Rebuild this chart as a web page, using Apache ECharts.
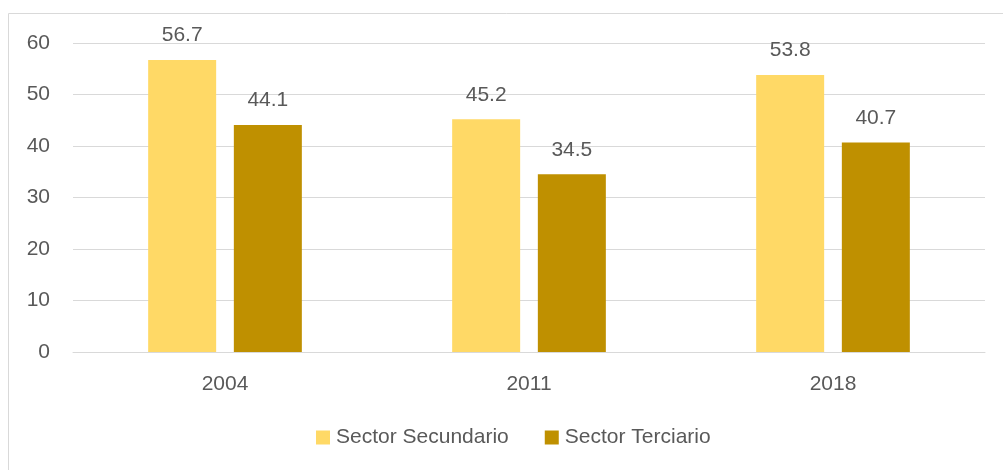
<!DOCTYPE html>
<html>
<head>
<meta charset="utf-8">
<script src="https://cdn.jsdelivr.net/npm/echarts@6/dist/echarts.min.js"></script>
<style>html,body{margin:0;padding:0;background:#fff}#c{width:1003px;height:470px}</style>
</head>
<body>
<div id="c"></div>
<script>
const categories = ['2004', '2011', '2018'];
const secundario = [56.7, 45.2, 53.8];
const terciario = [44.1, 34.5, 40.7];
const seriesNames = ['Sector Secundario', 'Sector Terciario'];

const font = 'Liberation Sans, Arial, sans-serif';
const txt = '#595959';
const fs = 21;
const chart = echarts.init(document.getElementById('c'));
const label = {show: true, position: 'top', distance: 14, color: txt, fontSize: fs, fontFamily: font};
chart.setOption({
  animation: false,
  graphic: [{type: 'rect', shape: {x: 8.5, y: 13.5, width: 1010, height: 480}, style: {fill: 'none', stroke: '#D9D9D9', lineWidth: 1}}],
  grid: {left: 73, right: 18, top: 43, bottom: 118},
  legend: {
    data: seriesNames, bottom: 17, left: 311, itemWidth: 14, itemHeight: 14, itemGap: 36,
    icon: 'rect', textStyle: {color: txt, fontSize: fs, fontFamily: font, padding: [0, 0, 0, 1]}
  },
  xAxis: {
    type: 'category', data: categories,
    axisLine: {lineStyle: {color: '#D9D9D9', width: 1}}, axisTick: {show: false},
    axisLabel: {color: txt, fontSize: fs, fontFamily: font, margin: 22}
  },
  yAxis: {
    type: 'value', min: 0, max: 60, interval: 10,
    axisLine: {show: false}, axisTick: {show: false},
    splitLine: {lineStyle: {color: '#D9D9D9', width: 1}},
    axisLabel: {color: txt, fontSize: fs, fontFamily: font, margin: 23}
  },
  series: [
    {name: seriesNames[0], type: 'bar', data: secundario, barWidth: 68, barGap: '26%', itemStyle: {color: '#FFD966'}, label: label},
    {name: seriesNames[1], type: 'bar', data: terciario, barWidth: 68, itemStyle: {color: '#BF9000'}, label: label}
  ]
});
</script>
</body>
</html>
